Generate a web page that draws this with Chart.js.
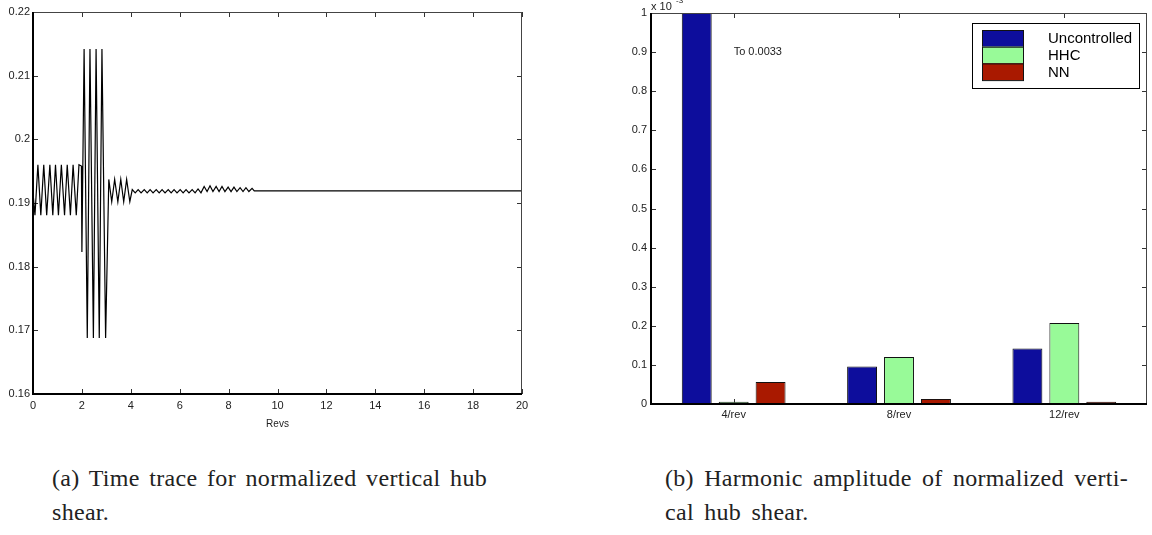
<!DOCTYPE html>
<html>
<head>
<meta charset="utf-8">
<script src="https://cdn.jsdelivr.net/npm/chart.js@4.4.1/dist/chart.umd.min.js"></script>
<style>
  html, body { margin: 0; padding: 0; background: #fff; overflow: hidden; }
  #page { position: relative; width: 1152px; height: 535px; }
  canvas { position: absolute; top: 0; }
  .caption {
    position: absolute;
    font-family: "Liberation Serif", "DejaVu Serif", serif;
    font-size: 24px;
    color: #222;
    white-space: nowrap;
    line-height: 24px;
    letter-spacing: 0.3px;
  }
</style>
</head>
<body>
<div id="page">
  <canvas id="traceChart" width="560" height="430" style="left:0px"></canvas>
  <canvas id="harmonicChart" width="562" height="430" style="left:590px"></canvas>
  <div class="caption" id="capA1" style="left:52px; top:466px" data-w="435">(a) Time trace for normalized vertical hub</div>
  <div class="caption" id="capA2" style="left:52px; top:500px" data-ref="capA1">shear.</div>
  <div class="caption" id="capB1" style="left:665px; top:466px" data-w="463">(b) Harmonic amplitude of normalized verti-</div>
  <div class="caption" id="capB2" style="left:665px; top:500px" data-ref="capB1">cal hub shear.</div>
</div>
<script>
// ---- (a) time trace: [rev, normalized vertical hub shear] ----
const traceUncontrolled = [
  [0.00, 0.1916], [0.08, 0.1881], [0.20, 0.1960], [0.32, 0.1881], [0.44, 0.1960],
  [0.56, 0.1881], [0.69, 0.1960], [0.81, 0.1881], [0.92, 0.1960], [1.04, 0.1881],
  [1.16, 0.1960], [1.29, 0.1881], [1.40, 0.1960], [1.53, 0.1881], [1.64, 0.1960],
  [1.77, 0.1881], [1.88, 0.1960], [1.98, 0.1958], [2.00, 0.1823]
];
const traceSwitchOn = [
  [2.09, 0.2142], [2.22, 0.1688], [2.33, 0.2142], [2.47, 0.1688],
  [2.58, 0.2142], [2.71, 0.1688], [2.82, 0.2142], [2.97, 0.1688]
];
const traceSettle = [
  [3.10, 0.1937], [3.22, 0.1902], [3.34, 0.1937], [3.47, 0.1902],
  [3.59, 0.1937], [3.71, 0.1902], [3.83, 0.1937], [3.96, 0.1902]
];
const traceConverge = [
  [4.06, 0.1921], [4.18, 0.1916], [4.30, 0.1921], [4.42, 0.1916], [4.55, 0.1921],
  [4.67, 0.1916], [4.79, 0.1921], [4.91, 0.1916], [5.04, 0.1921], [5.16, 0.1916],
  [5.28, 0.1921], [5.40, 0.1916], [5.53, 0.1921], [5.65, 0.1916], [5.77, 0.1921],
  [5.89, 0.1916], [6.02, 0.1921], [6.14, 0.1916], [6.26, 0.1921], [6.38, 0.1916],
  [6.51, 0.1921], [6.63, 0.1916], [6.75, 0.1922], [6.87, 0.1916], [7.00, 0.1926],
  [7.12, 0.1918], [7.24, 0.1927], [7.36, 0.1918], [7.49, 0.1926], [7.61, 0.1918],
  [7.73, 0.1926], [7.85, 0.1918], [7.98, 0.1925], [8.10, 0.1918], [8.22, 0.1925],
  [8.34, 0.1918], [8.47, 0.1924], [8.59, 0.1918], [8.71, 0.1924], [8.83, 0.1918],
  [8.96, 0.1923]
];
const traceSteady = [[9.05, 0.1919], [14.0, 0.1919], [20.0, 0.1919]];

const revTicks = [0, 2, 4, 6, 8, 10, 12, 14, 16, 18, 20];
const shearTicks = [0.16, 0.17, 0.18, 0.19, 0.2, 0.21, 0.22];

// ---- (b) harmonic amplitudes, x 10^-3 ----
const harmonics = ['4/rev', '8/rev', '12/rev'];
const seriesNames = ['Uncontrolled', 'HHC', 'NN'];
const uncontrolled = [3.3, 0.096, 0.142];   // 4/rev runs off the axis ("To 0.0033")
const hhc = [0.006, 0.120, 0.207];
const nn = [0.056, 0.013, 0.006];
const ampTicks = [0, 0.1, 0.2, 0.3, 0.4, 0.5, 0.6, 0.7, 0.8, 0.9, 1];

const seriesColors = ['#0d0d9c', '#98fa98', '#a91900'];
const tickFont = { family: '"Liberation Sans", Arial, sans-serif', size: 11 };
const inkColor = '#222';

// matlab style frame: ticks pointing in on all four sides, box on top
const matlabBox = {
  id: 'matlabBox',
  beforeDatasetsDraw(chart) {
    const { ctx, chartArea: a, scales } = chart;
    const len = 5;
    ctx.save();
    ctx.strokeStyle = '#333';
    ctx.lineWidth = 1;
    ctx.beginPath();
    scales.x.ticks.forEach((t, i) => {
      const px = Math.round(scales.x.getPixelForTick(i)) + 0.5;
      ctx.moveTo(px, a.bottom); ctx.lineTo(px, a.bottom - len);
      ctx.moveTo(px, a.top); ctx.lineTo(px, a.top + len);
    });
    scales.y.ticks.forEach((t, i) => {
      const py = Math.round(scales.y.getPixelForTick(i)) + 0.5;
      ctx.moveTo(a.left, py); ctx.lineTo(a.left + len, py);
      ctx.moveTo(a.right, py); ctx.lineTo(a.right - len, py);
    });
    ctx.stroke();
    ctx.restore();
  },
  afterDatasetsDraw(chart) {
    const { ctx, chartArea: a } = chart;
    ctx.save();
    ctx.strokeStyle = '#444';
    ctx.lineWidth = 1;
    ctx.beginPath();
    ctx.moveTo(a.left, a.top + 0.5); ctx.lineTo(a.right, a.top + 0.5);
    ctx.moveTo(a.right - 0.5, a.top); ctx.lineTo(a.right - 0.5, a.bottom);
    ctx.stroke();
    ctx.strokeStyle = '#000';
    ctx.lineWidth = 2;
    ctx.beginPath();
    ctx.moveTo(a.left, a.top); ctx.lineTo(a.left, a.bottom);
    ctx.lineTo(a.right, a.bottom);
    ctx.stroke();
    ctx.restore();
  }
};

new Chart(document.getElementById('traceChart'), {
  type: 'line',
  data: {
    datasets: [{
      data: [...traceUncontrolled, ...traceSwitchOn, ...traceSettle, ...traceConverge, ...traceSteady]
        .map(([x, y]) => ({ x, y })),
      borderColor: '#000',
      borderWidth: 1.2,
      pointRadius: 0,
      tension: 0
    }]
  },
  options: {
    responsive: false,
    animation: false,
    layout: { padding: { left: 0, right: 38, top: 12, bottom: 0 } },
    plugins: { legend: { display: false }, tooltip: { enabled: false } },
    scales: {
      x: {
        type: 'linear', min: 0, max: 20,
        afterBuildTicks: s => { s.ticks = revTicks.map(v => ({ value: v })); },
        afterFit: s => { s.height = 36; },
        grid: { display: false, drawTicks: false },
        border: { display: false },
        ticks: { padding: 5, font: tickFont, color: inkColor, maxRotation: 0, autoSkip: false },
        title: { display: true, text: 'Revs', font: { ...tickFont, size: 10 }, color: inkColor, padding: { top: 1, bottom: 0 } }
      },
      y: {
        min: 0.16, max: 0.22,
        afterBuildTicks: s => { s.ticks = shearTicks.map(v => ({ value: v })); },
        afterFit: s => { s.width = 33; },
        grid: { display: false, drawTicks: false },
        border: { display: false },
        ticks: { padding: 3, font: tickFont, color: inkColor, callback: v => String(Number(v.toFixed(2))) }
      }
    }
  },
  plugins: [matlabBox]
});

// legend box + annotations for the bar chart
const barExtras = {
  id: 'barExtras',
  afterDraw(chart) {
    const { ctx, chartArea: a, scales } = chart;
    ctx.save();
    // axis multiplier
    ctx.fillStyle = inkColor;
    ctx.font = '11px "Liberation Sans", Arial, sans-serif';
    ctx.textBaseline = 'alphabetic';
    ctx.textAlign = 'left';
    ctx.fillText('x 10', a.left, a.top - 3);
    ctx.font = '8px "Liberation Sans", Arial, sans-serif';
    ctx.fillText('-3', a.left + 25, a.top - 10);
    // text note on the off-scale bar
    ctx.font = '11px "Liberation Sans", Arial, sans-serif';
    ctx.textBaseline = 'middle';
    ctx.fillText('To 0.0033', scales.x.getPixelForValue(0), scales.y.getPixelForValue(0.9));
    // legend
    const bw = 167, bh = 65;
    const bx = a.right - 8 - bw, by = a.top + 10;
    ctx.fillStyle = '#fff';
    ctx.fillRect(bx, by, bw, bh);
    ctx.strokeStyle = '#000';
    ctx.lineWidth = 1;
    ctx.strokeRect(bx + 0.5, by + 0.5, bw, bh);
    const sh = 16.7;
    seriesNames.forEach((name, i) => {
      const sy = by + 7 + i * sh;
      ctx.fillStyle = seriesColors[i];
      ctx.fillRect(bx + 10, sy, 41, sh);
      ctx.strokeStyle = '#111';
      ctx.strokeRect(bx + 10.5, sy + 0.5, 41, sh);
      ctx.fillStyle = '#000';
      ctx.font = '15px "Liberation Sans", Arial, sans-serif';
      ctx.textBaseline = 'middle';
      ctx.fillText(name, bx + 76, sy + sh / 2 + 1);
    });
    ctx.restore();
  }
};

new Chart(document.getElementById('harmonicChart'), {
  type: 'bar',
  data: {
    labels: harmonics,
    datasets: [uncontrolled, hhc, nn].map((vals, i) => ({
      label: seriesNames[i],
      data: vals,
      backgroundColor: seriesColors[i],
      borderColor: '#111',
      borderWidth: 1,
      borderSkipped: false,
      barPercentage: 0.81,
      categoryPercentage: 0.67
    }))
  },
  options: {
    responsive: false,
    animation: false,
    layout: { padding: { left: 0, right: 5, top: 13, bottom: 0 } },
    plugins: { legend: { display: false }, tooltip: { enabled: false } },
    scales: {
      x: {
        afterFit: s => { s.height = 26; },
        grid: { display: false, drawTicks: false },
        border: { display: false },
        ticks: { padding: 4, font: tickFont, color: inkColor, maxRotation: 0 }
      },
      y: {
        min: 0, max: 1,
        afterBuildTicks: s => { s.ticks = ampTicks.map(v => ({ value: v })); },
        afterFit: s => { s.width = 61; },
        grid: { display: false, drawTicks: false },
        border: { display: false },
        ticks: { padding: 4, font: tickFont, color: inkColor, callback: v => String(Number(v.toFixed(1))) }
      }
    }
  },
  plugins: [matlabBox, barExtras]
});

// widen word gaps so the caption lines span the same width as the typeset ones
document.querySelectorAll('.caption[data-w]').forEach(el => {
  const target = Number(el.dataset.w);
  const spaces = (el.textContent.match(/ /g) || []).length;
  const gap = (target - el.getBoundingClientRect().width) / spaces;
  el.style.wordSpacing = gap + 'px';
  document.querySelectorAll('.caption[data-ref="' + el.id + '"]').forEach(c => {
    c.style.wordSpacing = gap + 'px';
  });
});
</script>
</body>
</html>
